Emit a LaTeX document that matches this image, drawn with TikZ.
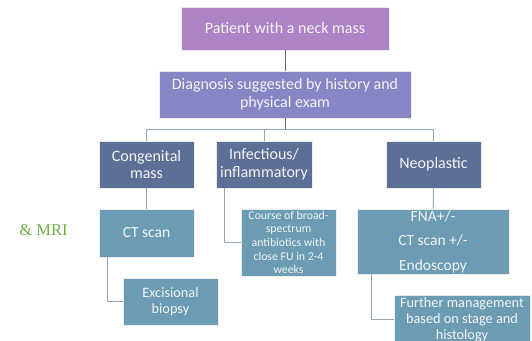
\documentclass[tikz,border=0pt]{standalone}
\usepackage{fontspec}
\setmainfont{Carlito}
\newfontfamily\mrifont{Liberation Serif}
\usepackage{tikz}
\usepackage{xcolor}
\usetikzlibrary{positioning, calc}
\definecolor{toppurple}{HTML}{AD83C6}
\definecolor{diagpurple}{HTML}{8785C5}
\definecolor{slateblue}{HTML}{5B6F97}
\definecolor{steelblue}{HTML}{6B9CB3}
\definecolor{linkgray}{HTML}{94A6B8}
\definecolor{mrigreen}{HTML}{70AD47}
\definecolor{boxtext}{HTML}{F4F4F4}

\begin{document}
\begin{tikzpicture}[x=1pt, y=-1pt,
            box/.style={rectangle, draw=white!85!gray, line width=0.6pt, align=center, text=boxtext, inner sep=1pt},
            topbox/.style={box, fill=toppurple, font=\fontsize{16}{17.7}\selectfont},
            diagbox/.style={box, fill=diagpurple, font=\fontsize{16}{17.7}\selectfont},
            groupbox/.style={box, fill=slateblue, minimum height=47pt, font=\fontsize{16}{17.7}\selectfont},
            stepbox/.style={box, fill=steelblue, font=\fontsize{14.3}{16}\selectfont},
            link/.style={draw=linkgray, line width=1pt}
        ]
            \useasboundingbox (0,0) rectangle (532,340);
            \clip (0,0) rectangle (532,340);

% Top levels
            \node[topbox, minimum width=208pt, minimum height=43pt] (patient) at (285,28.5) {Patient with a neck mass};
            \node[diagbox, minimum width=252pt, minimum height=47pt] (diagnosis) at (285,94.5) {Diagnosis suggested by history and\\physical exam};

% Groups
            \node[groupbox, minimum width=95pt] (congenital) at (146.5,164.5) {Congenital\\mass};
            \node[groupbox, minimum width=96pt] (infectious) at (264,164.5) {Infectious/\\inflammatory};
            \node[groupbox, minimum width=95pt] (neoplastic) at (433.5,164.5) {Neoplastic};

% Work-up steps
            \node[stepbox, minimum width=95pt, minimum height=48pt, font=\fontsize{15.5}{17.7}\selectfont] (ctscan) at (146.5,233) {CT scan};
            \node[stepbox, minimum width=95pt, minimum height=47pt] (excisional) at (170.5,301.5) {Excisional\\biopsy};
            \node[stepbox, minimum width=95pt, minimum height=67pt, font=\fontsize{11.8}{13.7}\selectfont] (antibiotics) at (288.5,242.5) {Course of broad-\\spectrum\\antibiotics with\\close FU in 2-4\\weeks};
            \node[stepbox, minimum width=152pt, minimum height=65pt, font=\fontsize{15.5}{24.5}\selectfont] (fna) at (433,241.5) {FNA+/-\\CT scan +/-\\Endoscopy};
            \node[stepbox, minimum width=136pt, minimum height=49pt] (further) at (462,319.5) {Further management\\based on stage and\\histology};

% Side note
            \node[font=\mrifont\fontsize{16.5}{20}\selectfont, text=mrigreen] (mri) at (43.5,230) {\& MRI};

% Connectors
            \draw[link, draw=gray!80!black] (patient) -- (diagnosis);
            \draw[link, draw=gray!80!black] (diagnosis.south) -- ++(0,11.5) coordinate (bus);
            \draw[link] (congenital.north) |- (bus) -| (neoplastic.north);
            \draw[link] (infectious.north) -- (infectious.north |- bus);
            \draw[link] (congenital) -- (ctscan);
            \draw[link] (neoplastic) -- (fna);
            \draw[link] ([xshift=9pt]infectious.south west) |- (antibiotics.west);
            \draw[link] ([xshift=9pt]ctscan.south west) |- (excisional.west);
            \draw[link] ([xshift=15pt]fna.south west) |- (further.west);

        \end{tikzpicture}
\end{document}
